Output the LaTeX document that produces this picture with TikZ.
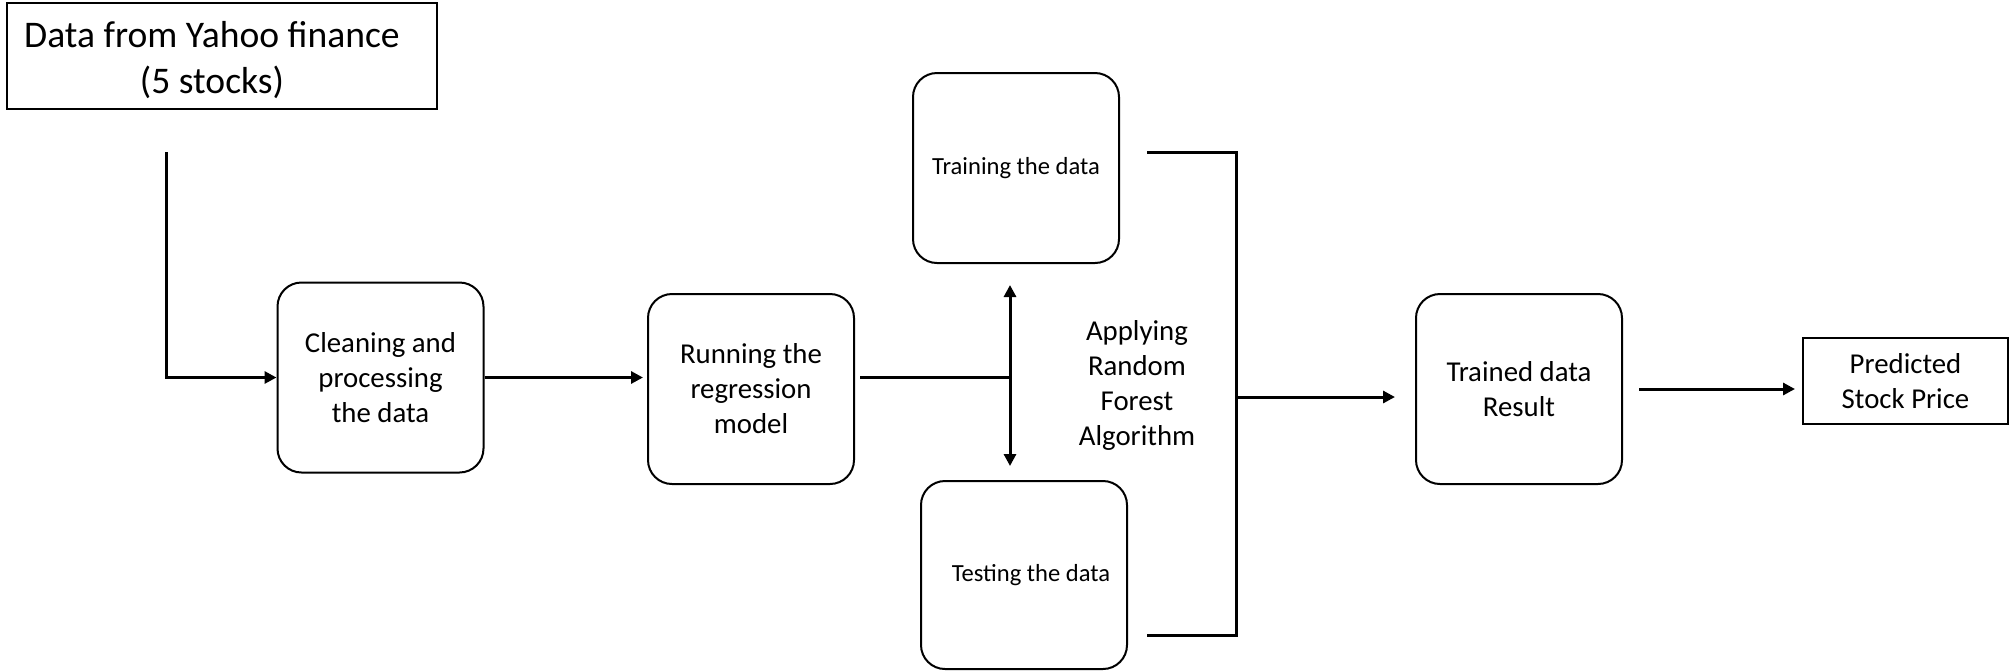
\documentclass[tikz,border=0pt]{standalone}
\usepackage{fontspec}
\setmainfont{Carlito}
\usetikzlibrary{arrows.meta}
\begin{document}
\begin{tikzpicture}[x=0.5pt,y=-0.5pt,
  mainfont/.style={font=\fontsize{14.4pt}{17.5pt}\selectfont},
  smallfont/.style={font=\fontsize{12.3pt}{15pt}\selectfont},
  box/.style={draw, line width=1pt, rounded corners=12pt, minimum width=103pt, minimum height=95pt, align=center, inner sep=0pt, mainfont},
  plainbox/.style={draw, line width=1pt, inner sep=0pt, align=center, mainfont},
  lbl/.style={align=center, inner sep=0pt, mainfont},
  conn/.style={line width=1.5pt},
  arr/.style={conn, -{Triangle[length=6pt,width=6pt]}}]
\useasboundingbox (0,0) rectangle (2010,671);

% nodes
\node[plainbox, minimum width=215pt, minimum height=53pt] (src) at (222,56) {};
\node[lbl, font=\fontsize{18.8pt}{23pt}\selectfont] (srctext) at (212,60) {Data from Yahoo finance\\(5 stocks)};
\node[box] (clean) at (380.5,377.5) {Cleaning and\\processing\\the data};
\node[box] (run) at (751,389) {Running the\\regression\\model};
\node[box, smallfont] (train) at (1016,168) {Training the data};
\node[box, smallfont, minimum height=94pt] (test) at (1024,575) {\hspace{7pt}Testing the data};
\node[lbl] (apply) at (1137,385) {Applying\\Random\\Forest\\Algorithm};
\node[box] (result) at (1519,389) {Trained data\\Result};
\node[plainbox, minimum width=102.5pt, minimum height=43pt] (pred) at (1905.5,381) {Predicted\\Stock Price};

% connectors
\coordinate (drop) at (166,152);
\draw[arr] (drop) |- (clean.west);
\draw[arr, shorten >=2pt] (clean.east) -- (clean.east -| run.west);

\coordinate (split) at (1010,377);
\draw[conn, shorten <=2.5pt] (run.east |- split) -- (split);
\draw[arr, shorten >=10.5pt] (split) -- (split |- train.south);
\draw[arr, shorten >=7pt] (split) -- (split |- test.north);

\coordinate (bTopL) at (1147,152);
\coordinate (bTopR) at (1236,152);
\coordinate (bBotR) at (1236,635);
\coordinate (bBotL) at (1147,635);
\draw[conn] (bTopL) -- (bTopR) -- (bBotR) -- (bBotL);

\coordinate (bMid) at (1236,397);
\draw[arr, shorten >=10pt] (bMid) -- (bMid -| result.west);
\draw[arr, shorten <=8pt, shorten >=3.5pt] (result.east) -- (result.east -| pred.west);
\end{tikzpicture}
\end{document}
